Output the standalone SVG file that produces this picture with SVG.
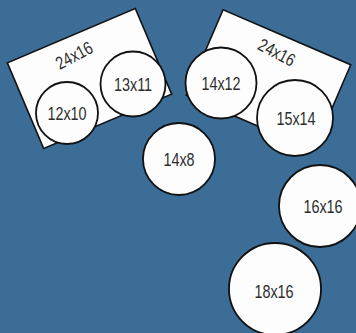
<svg xmlns="http://www.w3.org/2000/svg" width="356" height="333" viewBox="0 0 356 333">
<style>
.tbl{fill:#fdfdfd;stroke:#111;stroke-width:1.8}
.rt{fill:#fdfdfd;stroke:#111;stroke-width:1.6}
.lb{font-family:"Liberation Sans",Arial,sans-serif;font-size:18px;fill:#2e2e2e;text-anchor:middle;dominant-baseline:central}
</style>
<rect x="0" y="0" width="356" height="333" fill="#3b6d97"/>
<g id="rect-left">
<rect class="rt" x="-69.5" y="-46.5" width="139" height="93" transform="translate(89.5,78.5) rotate(-23)"/>
<text class="lb" transform="translate(74,55) rotate(-28) scale(0.8,1)">24x16</text>
</g>
<g id="t-12x10"><circle class="tbl" cx="67" cy="113" r="31"/><text class="lb" transform="translate(67,113) scale(0.8,1)">12x10</text></g>
<g id="t-13x11"><circle class="tbl" cx="133" cy="84" r="32.5"/><text class="lb" transform="translate(133,84) scale(0.8,1)">13x11</text></g>
<g id="rect-right">
<rect class="rt" x="-69.5" y="-46.5" width="139" height="93" transform="translate(268.5,80) rotate(23.3)"/>
<text class="lb" transform="translate(277,52) rotate(28) scale(0.8,1)">24x16</text>
</g>
<g id="t-14x12"><circle class="tbl" cx="221" cy="83" r="35.5"/><text class="lb" transform="translate(221,83) scale(0.8,1)">14x12</text></g>
<g id="t-15x14"><circle class="tbl" cx="295" cy="118" r="38"/><text class="lb" transform="translate(296,118) scale(0.8,1)">15x14</text></g>
<g id="t-14x8"><circle class="tbl" cx="179" cy="159" r="36"/><text class="lb" transform="translate(179,159) scale(0.8,1)">14x8</text></g>
<g id="t-16x16"><circle class="tbl" cx="320" cy="206" r="41"/><text class="lb" transform="translate(323,206) scale(0.8,1)">16x16</text></g>
<g id="t-18x16"><circle class="tbl" cx="275" cy="289" r="46"/><text class="lb" transform="translate(274,291) scale(0.8,1)">18x16</text></g>
<g id="connectors"></g>
</svg>
